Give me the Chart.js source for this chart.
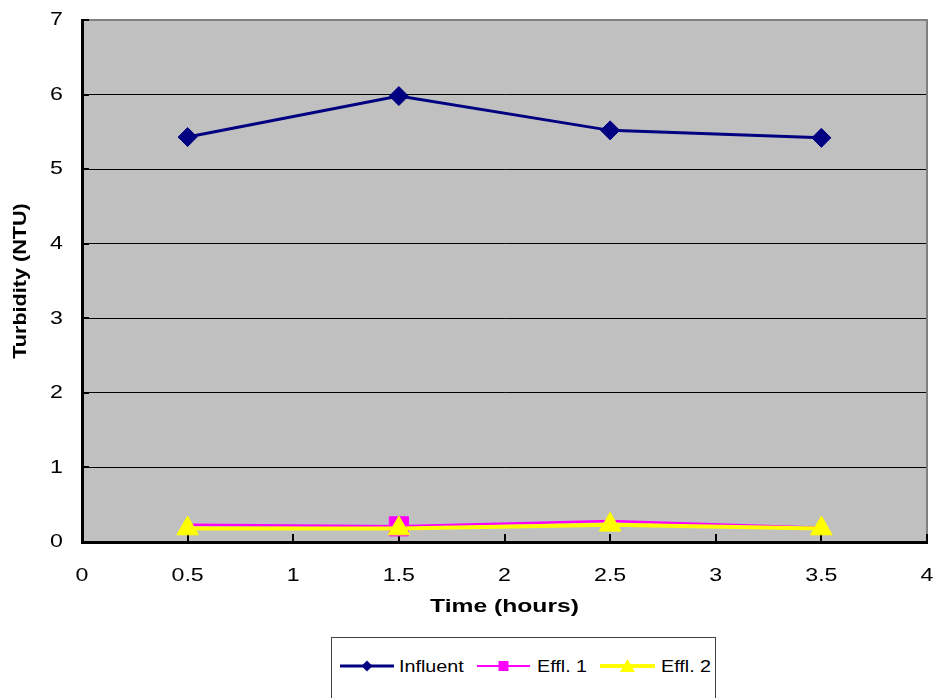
<!DOCTYPE html>
<html>
<head>
<meta charset="utf-8">
<script src="https://cdn.jsdelivr.net/npm/chart.js@4/dist/chart.umd.min.js"></script>
<style>
  html, body { margin: 0; padding: 0; background: #fff; overflow: hidden; }
  #wrap { position: relative; width: 938px; height: 698px; }
  #legend { position: absolute; left: 331px; top: 637px; width: 385px; height: 80px;
            border: 1px solid #404040; background: #fff; box-sizing: border-box; }
  #legend svg { display: block; }
</style>
</head>
<body>
<div id="wrap">
  <canvas id="c" width="938" height="698"></canvas>
  <div id="legend"><svg id="lg" width="383" height="78"></svg></div>
</div>
<script>
// Sampling times (hours)
const times = [0.5, 1.5, 2.5, 3.5];
// Turbidity readings (NTU)
const influent = [5.43, 5.98, 5.52, 5.42];
const effl1 = [0.23, 0.21, 0.28, 0.19];
const effl2 = [0.18, 0.18, 0.23, 0.18];
// Effl. 1 carries a marker only at its second reading
const effl1Markers = [0, 13.5, 0, 0];
const seriesNames = ['Influent', 'Effl. 1', 'Effl. 2'];
const xTitle = 'Time (hours)';
const yTitle = 'Turbidity (NTU)';

const COLORS = ['#000080', '#FF00FF', '#FFFF00'];
const FONT = "'Liberation Sans', Arial, Helvetica, sans-serif";
const TICK_STRETCH = 1.22;
const X_TITLE_STRETCH = 1.37;
const Y_TITLE_STRETCH = 1.2;

const canvas = document.getElementById('c');
const ctx = canvas.getContext('2d');

// Wide lettering: stretch each text run along its own direction about its anchor
const baseFillText = ctx.fillText.bind(ctx);
ctx.fillText = function (text, x, y, maxWidth) {
  const m = ctx.getTransform();
  const rotated = Math.abs(m.b) > 1e-6;
  const bold = /bold/.test(ctx.font);
  const sx = bold ? (rotated ? Y_TITLE_STRETCH : X_TITLE_STRETCH) : TICK_STRETCH;
  ctx.save();
  ctx.translate(x, y);
  ctx.scale(sx, 1);
  if (maxWidth === undefined) baseFillText(text, 0, 0);
  else baseFillText(text, 0, 0, maxWidth);
  ctx.restore();
};

const toPoints = vals => vals.map((v, i) => ({ x: times[i], y: v }));

// Grey plot area, grey top/right frame, inward tick marks
const plotFrame = {
  id: 'plotFrame',
  beforeDraw(chart) {
    const { ctx, chartArea: a } = chart;
    ctx.save();
    ctx.fillStyle = '#C0C0C0';
    ctx.fillRect(a.left, a.top, a.right - a.left, a.bottom - a.top);
    ctx.restore();
  },
  beforeDatasetsDraw(chart) {
    const { ctx, chartArea: a, scales: { x, y } } = chart;
    ctx.save();
    ctx.strokeStyle = '#808080';
    ctx.lineWidth = 2;
    ctx.beginPath();
    ctx.moveTo(a.left, a.top);
    ctx.lineTo(a.right, a.top);
    ctx.lineTo(a.right, a.bottom);
    ctx.stroke();
    ctx.strokeStyle = '#000';
    ctx.lineWidth = 2;
    ctx.beginPath();
    y.ticks.forEach(t => {
      const py = Math.round(y.getPixelForValue(t.value));
      ctx.moveTo(a.left, py);
      ctx.lineTo(a.left + 7, py);
    });
    x.ticks.forEach(t => {
      const px = Math.round(x.getPixelForValue(t.value));
      ctx.moveTo(px, a.bottom);
      ctx.lineTo(px, a.bottom - 8);
    });
    ctx.stroke();
    ctx.restore();
  }
};

new Chart(ctx, {
  type: 'line',
  data: {
    datasets: [
      { label: seriesNames[0], data: toPoints(influent), borderColor: COLORS[0],
        backgroundColor: COLORS[0], borderWidth: 3, pointStyle: 'rectRot',
        pointRadius: 9.5, pointBorderWidth: 1, order: 0 },
      { label: seriesNames[1], data: toPoints(effl1), borderColor: COLORS[1],
        backgroundColor: COLORS[1], borderWidth: 2.5, pointStyle: 'rect',
        pointRadius: effl1Markers, pointBorderWidth: 1, order: 2 },
      { label: seriesNames[2], data: toPoints(effl2), borderColor: COLORS[2],
        backgroundColor: COLORS[2], borderWidth: 4, pointStyle: 'triangle',
        pointRadius: 12.5, pointBorderWidth: 1, order: 1 }
    ]
  },
  options: {
    responsive: false,
    animation: false,
    devicePixelRatio: 1,
    events: [],
    layout: { autoPadding: false, padding: { left: 0, top: 20, right: 11, bottom: 0 } },
    plugins: { legend: { display: false }, tooltip: { enabled: false } },
    scales: {
      x: {
        type: 'linear', min: 0, max: 4,
        ticks: { stepSize: 0.5, color: '#000', padding: 22, maxRotation: 0,
                 callback: v => String(v),
                 font: { family: FONT, size: 19 } },
        grid: { color: 'rgba(0,0,0,0)', drawTicks: false },
        border: { display: true, color: '#000', width: 3 },
        title: { display: true, text: xTitle, color: '#000',
                 font: { family: FONT, size: 18, weight: 'bold' },
                 padding: { top: 0, bottom: 80 } },
        afterFit(scale) {
          scale.height = 156;
          scale.paddingLeft = 0;
          scale.paddingRight = 0;
        }
      },
      y: {
        min: 0, max: 7,
        ticks: { stepSize: 1, color: '#000', padding: 19,
                 font: { family: FONT, size: 19 } },
        grid: { color: '#000', lineWidth: 1, drawTicks: false },
        border: { display: true, color: '#000', width: 3 },
        title: { display: true, text: yTitle, color: '#000',
                 font: { family: FONT, size: 18, weight: 'bold' },
                 padding: { top: 10, bottom: 0 } },
        afterFit(scale) {
          scale.width = 82;
          scale.paddingTop = 0;
          scale.paddingBottom = 0;
        }
      }
    }
  },
  plugins: [plotFrame]
});

// Legend: line sample with marker, then the series name
const NS = 'http://www.w3.org/2000/svg';
const lg = document.getElementById('lg');
const legendItems = [
  { x0: 8, x1: 62, tx: 67, width: 3, marker: 'diamond' },
  { x0: 145, x1: 198, tx: 205, width: 2, marker: 'square' },
  { x0: 268, x1: 323, tx: 329, width: 4, marker: 'triangle' }
];
const LY = 28;
function el(name, attrs) {
  const e = document.createElementNS(NS, name);
  for (const k in attrs) e.setAttribute(k, attrs[k]);
  lg.appendChild(e);
  return e;
}
legendItems.forEach((it, i) => {
  el('line', { x1: it.x0, y1: LY, x2: it.x1, y2: LY, stroke: COLORS[i], 'stroke-width': it.width });
  const cx = (it.x0 + it.x1) / 2;
  if (it.marker === 'diamond') {
    el('polygon', { points: `${cx - 5.5},${LY} ${cx},${LY - 5.5} ${cx + 5.5},${LY} ${cx},${LY + 5.5}`, fill: COLORS[i] });
  } else if (it.marker === 'square') {
    el('rect', { x: cx - 5, y: LY - 5, width: 10, height: 10, fill: COLORS[i] });
  } else {
    el('polygon', { points: `${cx - 7.5},${LY + 6} ${cx},${LY - 7} ${cx + 7.5},${LY + 6}`, fill: COLORS[i] });
  }
  const t = el('text', { transform: `translate(${it.tx},${LY + 6}) scale(1.16,1)`,
    'font-family': FONT, 'font-size': 17, fill: '#000' });
  t.textContent = seriesNames[i];
});
</script>
</body>
</html>
